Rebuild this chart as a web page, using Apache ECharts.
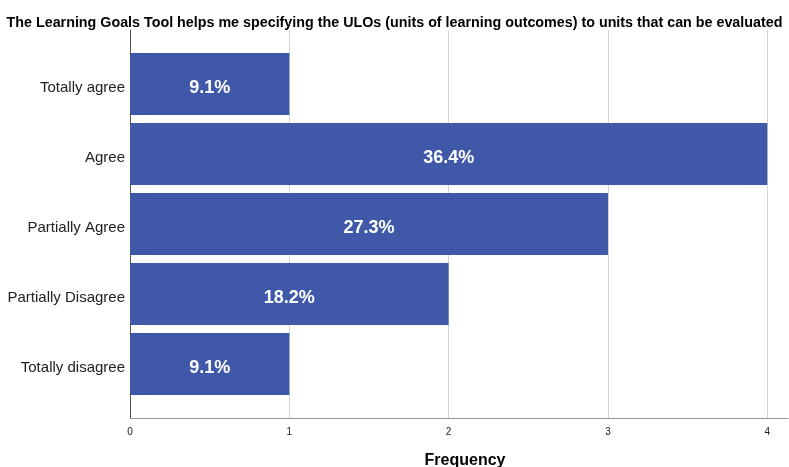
<!DOCTYPE html>
<html><head><meta charset="utf-8">
<script src="https://cdn.jsdelivr.net/npm/echarts@6/dist/echarts.min.js"></script>
<style>html,body{margin:0;padding:0;background:#fff}#c{width:789px;height:467px}</style>
</head><body><div id="c"></div>
<script>
const titleText = 'The Learning Goals Tool helps me specifying the ULOs (units of learning outcomes) to units that can be evaluated';
const categories = ['Totally agree', 'Agree', 'Partially Agree', 'Partially Disagree', 'Totally disagree'];
const frequencies = [1, 4, 3, 2, 1];
const percentLabels = ['9.1%', '36.4%', '27.3%', '18.2%', '9.1%'];
const xTicks = [0, 1, 2, 3, 4];
const xAxisName = 'Frequency';

const chart = echarts.init(document.getElementById('c'), null, {renderer: 'canvas'});
const FONT = 'Liberation Sans, Arial, sans-serif';
chart.setOption({
  animation: false,
  title: {
    text: titleText, left: 'center', top: 11,
    textStyle: {fontFamily: FONT, fontSize: 14.3, fontWeight: 'bold', color: '#000'}
  },
  grid: [
    {left: 130, right: 1, top: 30, bottom: 49, containLabel: false, outerBoundsMode: 'none'},
    {left: 130, right: 1, top: 49, bottom: 68, containLabel: false, outerBoundsMode: 'none'}
  ],
  xAxis: [
    {
      gridIndex: 0, type: 'value', min: 0, max: 4.13, interval: 1,
      name: xAxisName, nameLocation: 'middle', nameGap: 35,
      nameTextStyle: {fontFamily: FONT, fontSize: 16, fontWeight: 'bold', color: '#000', padding: [0, 0, 0, 12]},
      axisLine: {show: true, lineStyle: {color: '#999', width: 1}},
      axisTick: {show: false},
      axisLabel: {fontFamily: FONT, fontSize: 10, color: '#222', margin: 9,
        formatter: v => xTicks.includes(v) ? String(v) : ''},
      splitLine: {show: true, showMinLine: false, showMaxLine: false, lineStyle: {color: '#d4d4d4', width: 1}}
    },
    {gridIndex: 1, type: 'value', min: 0, max: 4.13, show: false, splitLine: {show: false}}
  ],
  yAxis: [
    {gridIndex: 0, type: 'value', min: 0, max: 1, show: true,
      axisLine: {show: true, onZero: false, lineStyle: {color: '#555', width: 1}},
      axisTick: {show: false}, axisLabel: {show: false}, splitLine: {show: false}},
    {gridIndex: 1, type: 'category', data: categories, inverse: true,
      axisLine: {show: false}, axisTick: {show: false}, splitLine: {show: false},
      axisLabel: {fontFamily: FONT, fontSize: 15, color: '#222', margin: 5, verticalAlign: 'top', lineHeight: 8}}
  ],
  series: [{
    type: 'bar', xAxisIndex: 1, yAxisIndex: 1,
    data: frequencies, barWidth: 62,
    itemStyle: {color: '#3F59A8'},
    label: {show: true, position: 'inside', color: '#fff', fontFamily: FONT, fontSize: 18, fontWeight: 'bold',
      offset: [0, 4],
      formatter: p => percentLabels[p.dataIndex]}
  }]
});
</script></body></html>
